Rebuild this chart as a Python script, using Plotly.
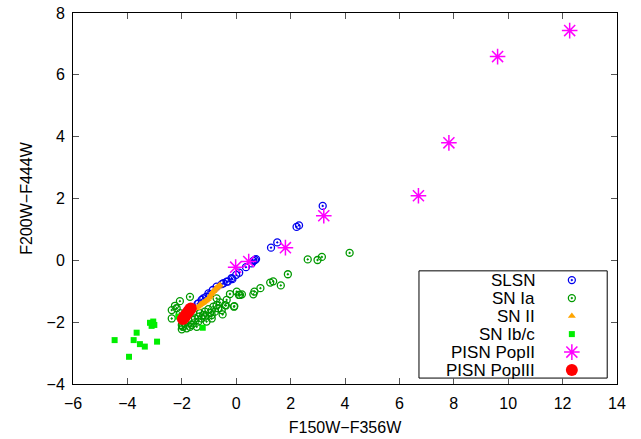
import plotly.graph_objects as go

# ---------------- data ----------------
slsn_x = [-1.42, -1.39, -1.27, -1.21, -1.11, -1.02, -0.96, -0.86, -0.72, -0.53, -0.47, -0.35,
          -0.31, -0.17, -0.14, 0.0, 0.11, 0.36, 0.57, 0.63, 0.69, 0.73, 1.28, 1.51, 2.22, 2.31, 3.18]
slsn_y = [-1.41, -1.39, -1.28, -1.23, -1.18, -1.07, -1.10, -0.96, -0.85, -0.77, -0.74, -0.69,
          -0.69, -0.58, -0.61, -0.47, -0.40, -0.22, -0.10, -0.02, 0.01, 0.04, 0.41, 0.58, 1.08, 1.13, 1.76]

snia_x = [4.17, 3.15, 2.99, 2.63, 1.90, 1.64, 1.36, 1.25, 0.89, 0.67, 0.63, 0.21, 0.10, 0.02,
          0.14, -0.23, -0.72, -0.07, -0.38, -0.50, -1.70, -2.07, -2.25, -2.37, -2.37, -2.19,
          -2.07, -2.00, -2.00, -1.82, -1.70, -1.58, -1.39, -1.27, -1.15, -0.96, -0.78, -0.66,
          -0.41, -0.60, -0.35, -0.08, -1.09, -0.90, -1.45, -1.88, -1.76, -1.52, -1.39, -1.33,
          -1.15, -1.02, -0.84, -0.72, -0.53, -0.90, -1.21, -1.58, -1.97, -1.64]
snia_y = [0.24, 0.11, 0.01, 0.03, -0.45, -0.81, -0.68, -0.72, -0.90, -1.01, -1.10, -1.10, -1.12, -1.01,
          -1.12, -1.09, -1.23, -1.48, -1.46, -1.75, -1.18, -1.32, -1.47, -1.61, -1.88, -1.55,
          -1.71, -2.09, -2.23, -2.20, -2.15, -2.04, -1.98, -1.88, -1.82, -1.71, -1.66, -1.55,
          -1.45, -1.36, -1.28, -1.50, -1.98, -1.88, -2.15, -2.04, -1.93, -1.88, -1.82, -1.71,
          -1.66, -1.58, -1.50, -1.45, -1.61, -1.77, -1.77, -1.71, -2.15, -2.09]

snii_x = [-1.45, -1.40, -1.35, -1.30, -1.25, -1.20, -1.15, -1.10, -1.05, -1.00, -0.96, -0.92,
          -0.88, -0.84, -0.80, -0.76, -0.72, -0.68, -0.64, -0.60]
snii_y = [-1.55, -1.50, -1.46, -1.42, -1.39, -1.36, -1.33, -1.30, -1.26, -1.21, -1.16, -1.10,
          -1.05, -1.00, -0.96, -0.92, -0.89, -0.86, -0.83, -0.80]

snibc_x = [-4.47, -3.94, -3.77, -3.66, -3.54, -3.36, -2.91, -3.17, -3.05, -3.11, -3.01, -1.23, -2.13]
snibc_y = [-2.58, -3.12, -2.58, -2.34, -2.71, -2.79, -2.63, -2.02, -1.98, -2.12, -2.09, -2.18, -1.82]

pisn2_x = [12.26, 9.61, 7.82, 6.70, 3.22, 1.81, 0.46, -0.02]
pisn2_y = [7.43, 6.59, 3.80, 2.09, 1.44, 0.41, -0.04, -0.22]

pisn3_x = [-1.96, -1.91, -1.87, -1.82, -1.77, -1.72, -1.67]
pisn3_y = [-1.90, -1.85, -1.79, -1.73, -1.67, -1.61, -1.56]

x_ticks = [-6, -4, -2, 0, 2, 4, 6, 8, 10, 12, 14]
y_ticks = [-4, -2, 0, 2, 4, 6, 8]

labels = ["SLSN", "SN Ia", "SN II", "SN Ib/c", "PISN PopII", "PISN PopIII"]

# ---------------- styles ----------------
FONT = "Liberation Sans, Arial, sans-serif"
styles = [
    dict(symbol="circle-open-dot", size=7, color="#0000ee", line=dict(width=1.3, color="#0000ee")),
    dict(symbol="circle-open-dot", size=7, color="#009900", line=dict(width=1.3, color="#009900")),
    dict(symbol="triangle-up", size=7, color="#ffa500", line=dict(width=0)),
    dict(symbol="square", size=6, color="#00ee00", line=dict(width=0)),
    dict(symbol="asterisk-open", size=13, color="#ff00ff", line=dict(width=1.5, color="#ff00ff")),
    dict(symbol="circle", size=12, color="#ff0000", line=dict(width=0)),
]
series = [(slsn_x, slsn_y), (snia_x, snia_y), (snii_x, snii_y),
          (snibc_x, snibc_y), (pisn2_x, pisn2_y), (pisn3_x, pisn3_y)]

fig = go.Figure()
for (xs, ys), st, lab in zip(series, styles, labels):
    fig.add_trace(go.Scatter(x=xs, y=ys, mode="markers", marker=st, name=lab,
                             showlegend=False, hoverinfo="x+y+name"))

# ---------------- manual gnuplot-style key ----------------
box_l, box_r, box_b, box_t = 0.636, 0.982, 0.016, 0.305
row0, drow = 0.280, 0.0485
text_x, mark_x = 0.853, 0.917
fig.add_shape(type="rect", xref="paper", yref="paper", x0=box_l, x1=box_r, y0=box_b, y1=box_t,
              line=dict(color="black", width=1), fillcolor="white", layer="below")
for i, (st, lab) in enumerate(zip(styles, labels)):
    yy = row0 - i * drow
    fig.add_annotation(xref="paper", yref="paper", x=text_x, y=yy, text=lab, showarrow=False,
                       xanchor="right", yanchor="middle", font=dict(family=FONT, size=17, color="black"))
    fig.add_trace(go.Scatter(x=[mark_x], y=[yy], xaxis="x2", yaxis="y2", mode="markers",
                             marker=st, showlegend=False, hoverinfo="skip"))

axis_common = dict(showgrid=False, zeroline=False, showline=True, linecolor="black", linewidth=1,
                   mirror="ticks", ticks="inside", ticklen=6, tickcolor="#555555", tickwidth=1,
                   automargin=False, tickfont=dict(family=FONT, size=16, color="black"))
fig.update_layout(
    width=641, height=439,
    margin=dict(l=73, r=24, t=13, b=55),
    plot_bgcolor="white", paper_bgcolor="white",
    font=dict(family=FONT, size=16, color="black"),
    xaxis=dict(range=[-6, 14], tickvals=x_ticks, ticklabelstandoff=5,
               title=dict(text="F150W−F356W", standoff=10, font=dict(family=FONT, size=16)),
               **axis_common),
    yaxis=dict(range=[-4, 8], tickvals=y_ticks, ticklabelstandoff=4,
               title=dict(text="F200W−F444W", standoff=9, font=dict(family=FONT, size=16)),
               **axis_common),
    xaxis2=dict(range=[0, 1], overlaying="x", visible=False, fixedrange=True),
    yaxis2=dict(range=[0, 1], overlaying="y", visible=False, fixedrange=True),
)

fig.write_html("out.html")
